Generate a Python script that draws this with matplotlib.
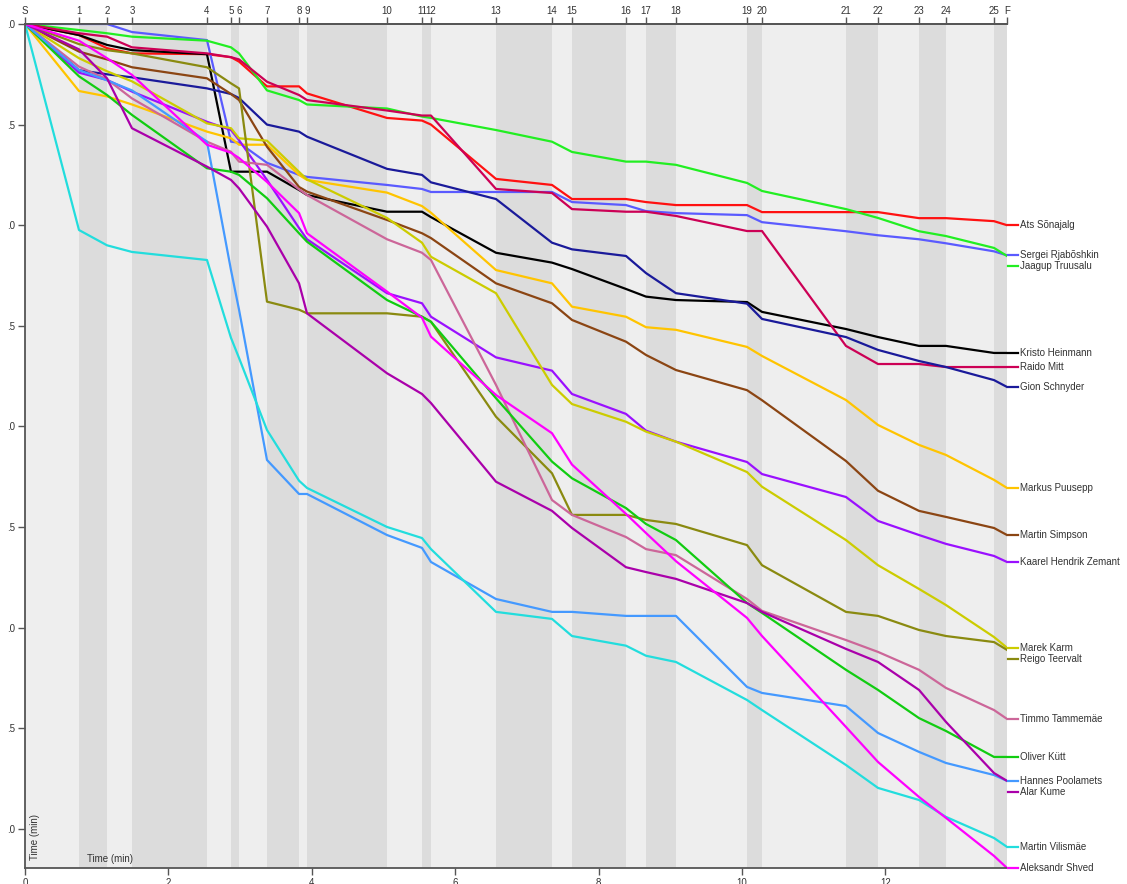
import matplotlib
matplotlib.use("Agg")
import matplotlib.pyplot as plt
import numpy as np

plt.rcParams['font.family'] = ['Liberation Sans', 'DejaVu Sans']

controls = ['S'] + [str(i) for i in range(1, 26)] + ['F']
control_times = [0, 0.753, 1.144, 1.492, 2.538, 2.873, 2.985, 3.375, 3.822, 3.933,
                 5.049, 5.537, 5.662, 6.569, 7.350, 7.629, 8.382, 8.661, 9.079,
                 10.070, 10.279, 11.450, 11.897, 12.469, 12.845, 13.515, 13.696]

ats = [0, 0.055, 0.12, 0.146, 0.15, 0.165, 0.187, 0.31, 0.31, 0.345, 0.467, 0.48, 0.50,
       0.77, 0.80, 0.87, 0.87, 0.885, 0.90, 0.90, 0.935, 0.935, 0.935, 0.965, 0.965, 0.98, 1.0]
sergei = [0, 0, 0, 0.04, 0.08, 0.585, 0.59, 0.69, 0.75, 0.76, 0.80, 0.82, 0.835, 0.835,
          0.835, 0.885, 0.90, 0.93, 0.94, 0.95, 0.985, 1.03, 1.05, 1.07, 1.09, 1.13, 1.15]
jaagup = [0, 0.03, 0.046, 0.063, 0.083, 0.116, 0.146, 0.33, 0.378, 0.40, 0.42, 0.46, 0.467,
          0.527, 0.585, 0.636, 0.684, 0.684, 0.70, 0.79, 0.83, 0.92, 0.964, 1.03, 1.054, 1.113, 1.153]
kristo = [0, 0.055, 0.104, 0.13, 0.15, 0.734, 0.734, 0.734, 0.825, 0.85, 0.933, 0.933, 0.96,
          1.137, 1.186, 1.218, 1.317, 1.355, 1.372, 1.382, 1.431, 1.516, 1.556, 1.60, 1.60, 1.635, 1.635]
raido = [0, 0.046, 0.063, 0.116, 0.146, 0.165, 0.176, 0.287, 0.353, 0.378, 0.43, 0.455, 0.455,
         0.82, 0.84, 0.92, 0.933, 0.933, 0.954, 1.029, 1.029, 1.60, 1.69, 1.69, 1.705, 1.705, 1.705]
gion = [0, 0.23, 0.25, 0.265, 0.32, 0.348, 0.368, 0.50, 0.535, 0.56, 0.72, 0.75, 0.787, 0.87,
        1.087, 1.12, 1.153, 1.238, 1.338, 1.39, 1.466, 1.556, 1.62, 1.675, 1.705, 1.77, 1.804]
markus = [0, 0.333, 0.36, 0.40, 0.535, 0.568, 0.60, 0.60, 0.75, 0.775, 0.838, 0.905, 0.938,
          1.223, 1.289, 1.405, 1.455, 1.507, 1.52, 1.605, 1.65, 1.869, 1.993, 2.092, 2.142, 2.266, 2.306]
simpson = [0, 0.137, 0.176, 0.215, 0.27, 0.348, 0.378, 0.61, 0.81, 0.833, 0.974, 1.04, 1.064,
           1.289, 1.388, 1.471, 1.579, 1.645, 1.72, 1.82, 1.87, 2.172, 2.32, 2.42, 2.45, 2.505, 2.54]
kaarel = [0, 0.242, 0.278, 0.336, 0.486, 0.527, 0.577, 0.775, 1.014, 1.07, 1.338, 1.388, 1.455,
          1.657, 1.723, 1.839, 1.938, 2.021, 2.076, 2.177, 2.237, 2.351, 2.47, 2.54, 2.584, 2.644, 2.674]
marek = [0, 0.17, 0.235, 0.285, 0.494, 0.518, 0.568, 0.58, 0.735, 0.772, 0.964, 1.087, 1.157,
         1.338, 1.794, 1.889, 1.977, 2.026, 2.076, 2.227, 2.30, 2.565, 2.69, 2.808, 2.888, 3.047, 3.10]
reigo = [0, 0.10, 0.13, 0.146, 0.215, 0.295, 0.32, 1.38, 1.42, 1.438, 1.438, 1.455, 1.48,
         1.952, 2.233, 2.44, 2.44, 2.465, 2.485, 2.59, 2.69, 2.922, 2.942, 3.012, 3.042, 3.072, 3.111]
timmo = [0, 0.212, 0.275, 0.37, 0.585, 0.635, 0.684, 0.70, 0.822, 0.85, 1.07, 1.137, 1.173,
         1.794, 2.366, 2.44, 2.55, 2.61, 2.64, 2.858, 2.917, 3.062, 3.121, 3.21, 3.30, 3.41, 3.454]
oliver = [0, 0.26, 0.353, 0.452, 0.717, 0.734, 0.75, 0.866, 1.04, 1.082, 1.372, 1.455, 1.48,
          1.86, 2.175, 2.258, 2.406, 2.485, 2.565, 2.878, 2.927, 3.21, 3.31, 3.45, 3.514, 3.643, 3.643]
hannes = [0, 0.229, 0.28, 0.33, 0.585, 1.223, 1.42, 2.167, 2.336, 2.336, 2.54, 2.604, 2.674,
          2.858, 2.922, 2.922, 2.942, 2.942, 2.942, 3.295, 3.325, 3.39, 3.524, 3.618, 3.673, 3.733, 3.762]
alar = [0, 0.126, 0.27, 0.518, 0.709, 0.775, 0.817, 1.007, 1.289, 1.438, 1.736, 1.839, 1.884,
        2.275, 2.42, 2.505, 2.70, 2.724, 2.758, 2.878, 2.922, 3.106, 3.171, 3.31, 3.469, 3.723, 3.762]
vilismae = [0, 1.024, 1.10, 1.133, 1.173, 1.56, 1.66, 2.018, 2.27, 2.306, 2.50, 2.555, 2.61,
            2.922, 2.957, 3.042, 3.09, 3.14, 3.171, 3.36, 3.41, 3.683, 3.797, 3.857, 3.941, 4.046, 4.09]
shved = [0, 0.083, 0.17, 0.253, 0.60, 0.64, 0.666, 0.785, 0.94, 1.04, 1.33, 1.46, 1.554,
         1.844, 2.034, 2.19, 2.435, 2.53, 2.67, 2.952, 3.042, 3.494, 3.668, 3.842, 3.946, 4.135, 4.195]

names = ['Ats Sõnajalg', 'Sergei Rjabõshkin', 'Jaagup Truusalu', 'Kristo Heinmann',
         'Raido Mitt', 'Gion Schnyder', 'Markus Puusepp', 'Martin Simpson',
         'Kaarel Hendrik Zemant', 'Marek Karm', 'Reigo Teervalt', 'Timmo Tammemäe',
         'Oliver Kütt', 'Hannes Poolamets', 'Alar Kume', 'Martin Vilismäe', 'Aleksandr Shved']
series = [ats, sergei, jaagup, kristo, raido, gion, markus, simpson, kaarel, marek,
          reigo, timmo, oliver, hannes, alar, vilismae, shved]
colors = ['#ff1111', '#5a5aff', '#22ee22', '#000000', '#cc0055', '#1a1a9a', '#ffc400',
          '#8b4513', '#9a10ff', '#cccc00', '#8a8a10', '#cc6699', '#11cc11', '#4499ff',
          '#aa00aa', '#22dddd', '#ff00ff']

y_ticks = [0, -0.5, -1.0, -1.5, -2.0, -2.5, -3.0, -3.5, -4.0]
y_tick_labels = ['.0', '.5', '.0', '.5', '.0', '.5', '.0', '.5', '.0']
x_ticks = [0, 2, 4, 6, 8, 10, 12]

W, H = 1127, 884
fig = plt.figure(figsize=(W / 100, H / 100), dpi=100)
ax = fig.add_axes([25 / W, 1 - 868 / H, (1007 - 25) / W, (868 - 24) / H])
ymin = -4.195
ax.set_xlim(0, control_times[-1])
ax.set_ylim(ymin, 0)

for i in range(1, len(control_times)):
    ax.axvspan(control_times[i - 1], control_times[i], color='#eeeeee' if i % 2 == 1 else '#dcdcdc',
               lw=0, zorder=0)

for vals, c in zip(series, colors):
    ax.plot(control_times, -np.array(vals), color=c, lw=1.6, zorder=2, solid_joinstyle='round')

# labels at right with de-overlap
order = sorted(range(len(series)), key=lambda k: (series[k][-1], k))
gap = 0.055
prev = -10
xf = control_times[-1]
for k in order:
    ly = max(series[k][-1], prev + gap)
    prev = ly
    ax.plot([xf + 0.02, xf + 0.16], [-ly, -ly], color=colors[k], lw=1.6, clip_on=False, zorder=3)
    ax.text(xf + 0.18, -ly, names[k], fontsize=7, color='#333333', va='center', ha='left',
            clip_on=False)

spc = '#555555'
for s in ['left', 'top', 'bottom']:
    ax.spines[s].set_color(spc)
    ax.spines[s].set_linewidth(1.3)
ax.spines['right'].set_visible(False)

ax.set_yticks(y_ticks)
ax.set_yticklabels(y_tick_labels)
ax.set_xticks(x_ticks)
ax.set_xticklabels([str(v) for v in x_ticks])
ax.tick_params(axis='both', labelsize=7, colors='#333333', length=5, width=1, direction='out', pad=2)
ax.tick_params(axis='both', color=spc)

top = ax.secondary_xaxis('top')
top.set_xticks(control_times)
top.set_xticklabels(controls)
top.tick_params(labelsize=7, colors='#333333', length=5, width=1, direction='out', pad=1)
top.tick_params(color=spc)
top.spines['top'].set_color(spc)
top.spines['top'].set_linewidth(1.3)

ax.text(0.14, -4.04, 'Time (min)', rotation=90, fontsize=7, color='#333333',
        va='center', ha='center', zorder=4)
ax.text(0.86, -4.15, 'Time (min)', fontsize=7, color='#333333', va='center', ha='left', zorder=4)

fig.savefig('out.png', dpi=100)
